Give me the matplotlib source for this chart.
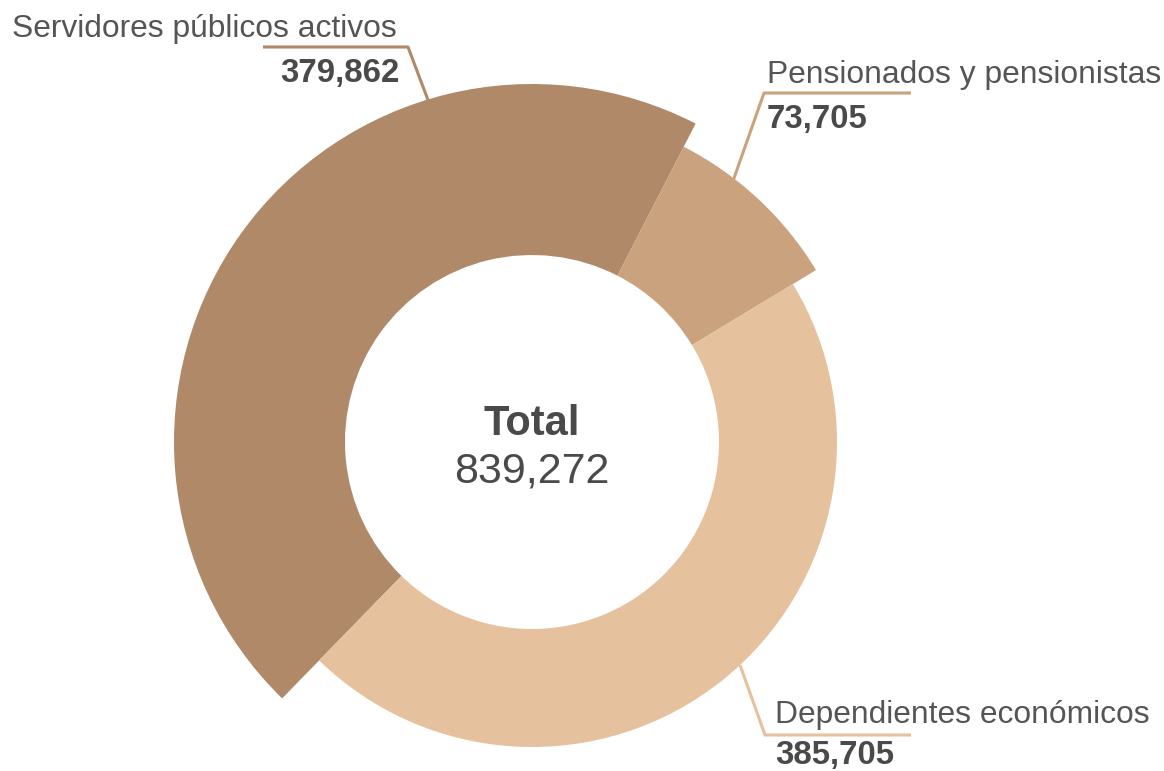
import matplotlib
matplotlib.use("Agg")
import matplotlib.pyplot as plt

categories = ["Servidores públicos activos", "Pensionados y pensionistas", "Dependientes económicos"]
values = [379862, 73705, 385705]
value_labels = ["379,862", "73,705", "385,705"]
total_label = "839,272"
colors = ["#b08968", "#caa27e", "#e5c29d"]

W, H = 1164, 771
fig = plt.figure(figsize=(W / 100, H / 100), dpi=100)
ax = fig.add_axes([0, 0, 1, 1])

def Y(y):
    return H - y

cx, cy = 532, Y(442)
inner = 187
radii = [358, 332, 305]
start = 62.8 + 360 * values[0] / sum(values)

wedges, _ = ax.pie(values, radius=max(radii), center=(cx, cy), startangle=start,
                   counterclock=False, colors=colors,
                   wedgeprops=dict(width=max(radii) - inner, linewidth=0))
for w, r in zip(wedges, radii):
    w.set_radius(r)
    w.set_width(r - inner)

ax.set_xlim(0, W)
ax.set_ylim(0, H)
ax.set_aspect("equal")
ax.axis("off")

txt = "#4a4a4a"
fam = ["Liberation Sans", "DejaVu Sans"]
lab_font = dict(family=fam, color="#555555")
num_font = dict(family=fam, color=txt, fontweight="bold")
lw = 2.2
lab_fs = 22.9
num_fs = 23.8

# Servidores
ax.plot([263, 408, 428], [Y(47), Y(47), Y(100)], color=colors[0], lw=lw, solid_capstyle="butt")
ax.text(12, Y(37), categories[0], fontsize=lab_fs, ha="left", va="baseline", **lab_font)
ax.text(400, Y(82), value_labels[0], fontsize=num_fs, ha="right", va="baseline", **num_font)

# Pensionados
ax.plot([911, 764, 733], [Y(93), Y(93), Y(181)], color=colors[1], lw=lw, solid_capstyle="butt")
ax.text(767, Y(83), categories[1], fontsize=lab_fs, ha="left", va="baseline", **lab_font)
ax.text(767, Y(128), value_labels[1], fontsize=num_fs, ha="left", va="baseline", **num_font)

# Dependientes
ax.plot([740, 765, 911], [Y(665), Y(735), Y(735)], color=colors[2], lw=lw, solid_capstyle="butt")
ax.text(775, Y(723), categories[2], fontsize=lab_fs, ha="left", va="baseline", **lab_font)
ax.text(775, Y(764), value_labels[2], fontsize=num_fs, ha="left", va="baseline", **num_font)

# Center
ax.text(cx, Y(435), "Total", fontsize=30, ha="center", va="baseline",
        family=fam, color=txt, fontweight="bold")
ax.text(cx, Y(483), total_label, fontsize=31, ha="center", va="baseline",
        family=fam, color=txt)

fig.savefig("out.png", dpi=100)
